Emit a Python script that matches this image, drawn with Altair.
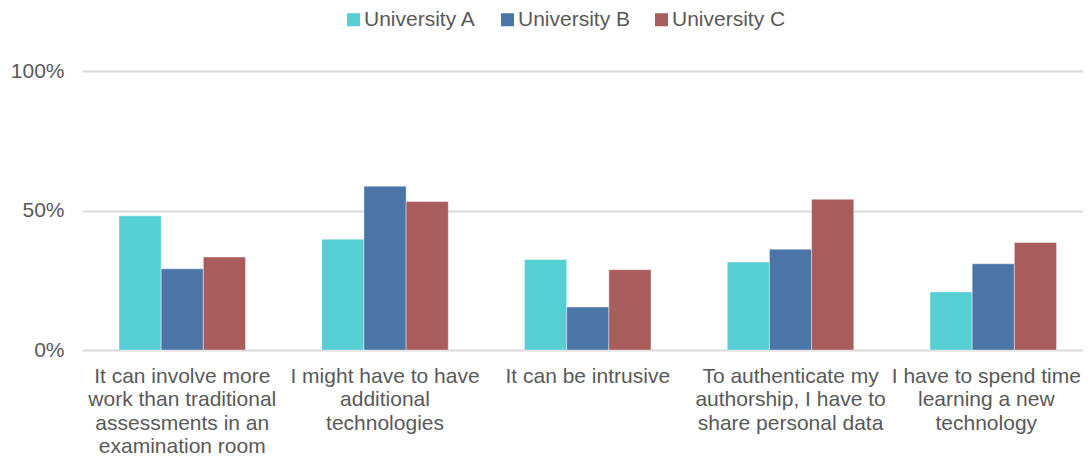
import altair as alt
import pandas as pd

categories = [
    "It can involve more|work than traditional|assessments in an|examination room",
    "I might have to have|additional|technologies",
    "It can be intrusive",
    "To authenticate my|authorship, I have to|share personal data",
    "I have to spend time|learning a new|technology",
]
series = ["University A", "University B", "University C"]
uni_a = [48.1, 39.7, 32.4, 31.5, 20.8]
uni_b = [29.1, 58.7, 15.4, 36.1, 30.9]
uni_c = [33.3, 53.2, 28.8, 54.0, 38.5]
colors = ["#56CFD4", "#4A75A6", "#A85D5C"]
y_ticks = [0, 50, 100]

rows = []
for i, c in enumerate(categories):
    for s, vals in zip(series, [uni_a, uni_b, uni_c]):
        rows.append({"category": c, "series": s, "value": vals[i]})
df = pd.DataFrame(rows)

FONT = "Liberation Sans"
TXT = "#595959"
FS = 21

chart = alt.Chart(df).mark_bar(stroke="white", strokeOpacity=0.4, strokeWidth=1).encode(
    x=alt.X(
        "category:N", sort=categories,
        scale=alt.Scale(paddingInner=0.376, paddingOuter=0.1565, align=0.583),
        axis=alt.Axis(title=None, labelAngle=0, labelExpr="split(datum.label, '|')",
                      labelFont=FONT, labelFontSize=FS, labelColor=TXT,
                      labelLineHeight=23.5, labelPadding=15, ticks=False, tickSize=0,
                      domain=False, labelLimit=0, labelOverlap=False, grid=False,
                      labelOffset={"condition": {"test": "datum.index == 1", "value": -7}, "value": 0}),
    ),
    xOffset=alt.XOffset("series:N", sort=series, scale=alt.Scale(paddingInner=0, paddingOuter=0)),
    y=alt.Y(
        "value:Q", scale=alt.Scale(domain=[0, 100]),
        axis=alt.Axis(title=None, values=y_ticks, labelExpr="datum.value + '%'",
                      labelFont=FONT, labelFontSize=FS, labelColor=TXT,
                      labelPadding=18, ticks=False, tickSize=0, domain=False,
                      grid=True, gridColor="#d9d9d9", gridWidth=2),
    ),
    color=alt.Color(
        "series:N", sort=series,
        scale=alt.Scale(domain=series, range=colors),
        legend=alt.Legend(title=None, orient="none", direction="horizontal",
                          legendX=261, legendY=-62, symbolType="square",
                          symbolSize=169, symbolStrokeWidth=0, labelOffset=0,
                          columnPadding=20, labelFont=FONT, labelFontSize=FS,
                          labelColor=TXT),
    ),
).properties(
    width=1001, height=279,
    autosize=alt.AutoSizeParams(type="none"),
    padding={"left": 74, "top": 63, "right": 0, "bottom": 115},
).configure_view(stroke=None)

chart.save("out.html", embed_options={"renderer": "svg", "actions": False})
